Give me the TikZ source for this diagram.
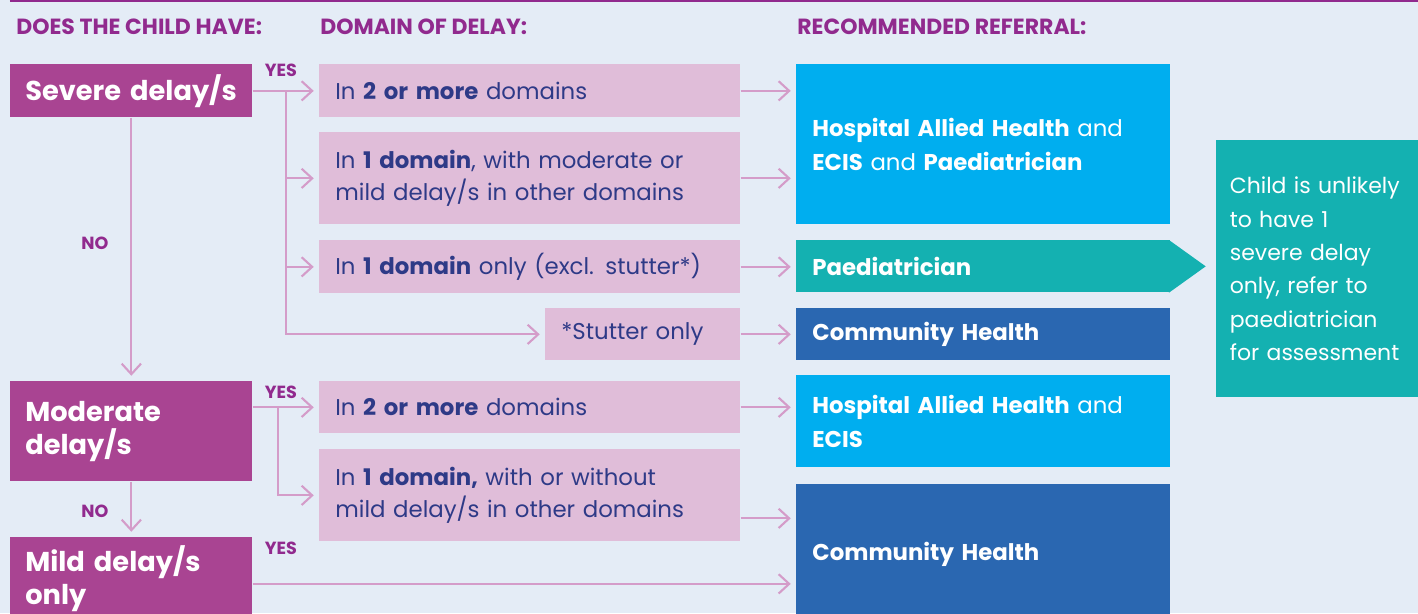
\documentclass[tikz,border=0pt]{standalone}
\usepackage{fontspec}
\setmainfont{Poppins}
\usetikzlibrary{arrows.meta}
\definecolor{bgc}{HTML}{E4ECF6}
\definecolor{qcol}{HTML}{A94492}
\definecolor{hcol}{HTML}{912A8E}
\definecolor{dcol}{HTML}{E0BDD9}
\definecolor{dtext}{HTML}{2E3A87}
\definecolor{lcol}{HTML}{D49CC9}
\definecolor{lblue}{HTML}{00AEEF}
\definecolor{tealc}{HTML}{14B1B1}
\definecolor{dblue}{HTML}{2A67B1}
\hyphenpenalty=10000
\exhyphenpenalty=10000
\tikzset{
  qbox/.style={fill=qcol,text=white,font=\bfseries\fontsize{15.5}{19}\selectfont,anchor=north west,
    inner xsep=0.3cm,inner ysep=0pt,text width=4.24cm,minimum height=#1,align=left},
  dbox/.style 2 args={fill=dcol,text=dtext,font=\fontsize{13}{18}\selectfont,anchor=north west,
    inner xsep=0.32cm,inner ysep=0pt,text width=#1,minimum height=#2,align=left},
  rbox/.style 2 args={fill=#1,text=white,font=\fontsize{13}{19}\selectfont,anchor=north west,
    inner xsep=0.32cm,inner ysep=0pt,text width=6.84cm,minimum height=#2,align=left},
  link/.style={draw=lcol,line width=1.2pt,-{Straight Barb[length=6pt,width=11pt]},shorten >=3pt},
  head/.style={anchor=west,inner sep=0pt,text=hcol,font=\bfseries\fontsize{12.5}{15}\selectfont},
  tag/.style={text=hcol,font=\bfseries\fontsize{10}{12}\selectfont}
}
\begin{document}
\begin{tikzpicture}
\fill[bgc](0,0)rectangle(28.36,-12.26);
\useasboundingbox(0,0)rectangle(28.36,-12.26);
\draw[hcol,line width=1.2pt](0.2,-0.02)--(28.36,-0.02);
\node[head](h1)at(0.32,-0.54){DOES THE CHILD HAVE:};
\node[head](h2)at(6.4,-0.54){DOMAIN OF DELAY:};
\node[head](h3)at(15.94,-0.54){RECOMMENDED REFERRAL:};
\node[qbox=1.06cm](sev)at(0.2,-1.28){Severe delay/s};
\node[qbox=2cm](mod)at(0.2,-7.62){Moderate\\delay/s};
\node[qbox=1.66cm](mild)at(0.2,-10.74){Mild delay/s\\only};
\node[dbox={7.78cm}{1.06cm}](twoS)at(6.38,-1.28){In \textbf{2 or more} domains};
\node[dbox={7.78cm}{1.84cm}](oneS)at(6.38,-2.64){In \textbf{1 domain}, with moderate or\\mild delay/s in other domains};
\node[dbox={7.78cm}{1.06cm}](onlyS)at(6.38,-4.8){In \textbf{1 domain} only (excl. stutter*)};
\node[dbox={3.26cm}{1.04cm}](stut)at(10.9,-6.16){*Stutter only};
\node[dbox={7.78cm}{1.04cm}](twoM)at(6.38,-7.62){In \textbf{2 or more} domains};
\node[dbox={7.78cm}{1.84cm}](oneM)at(6.38,-8.98){In \textbf{1 domain,} with or without\\mild delay/s in other domains};
\node[rbox={lblue}{3.2cm}](hahp)at(15.92,-1.28){\textbf{Hospital Allied Health} and\\\textbf{ECIS} and \textbf{Paediatrician}};
\node[rbox={tealc}{1.04cm}](paed)at(15.92,-4.8){\textbf{Paediatrician}};
\fill[tealc]([xshift=-1pt]paed.north east)--([xshift=0.7cm]paed.east)--([xshift=-1pt]paed.south east)--cycle;
\node[rbox={dblue}{1.04cm}](chS)at(15.92,-6.16){\textbf{Community Health}};
\node[rbox={lblue}{1.84cm}](hae)at(15.92,-7.5){\textbf{Hospital Allied Health} and\\\textbf{ECIS}};
\node[rbox={dblue}{2.8cm}](chM)at(15.92,-9.68){\textbf{Community Health}};
\node[fill=tealc,text=white,font=\fontsize{12.5}{19}\selectfont,anchor=north west,inner xsep=0.27cm,
  text width=3.5cm,minimum height=5.14cm,align=left](note)at(24.32,-2.8)
  {Child is unlikely\\to have 1\\severe delay\\only, refer to\\paediatrician\\for assessment};
\node[tag](yes1)at(5.62,-1.4){YES};
\node[tag](yes2)at(5.62,-7.84){YES};
\node[tag](yes3)at(5.62,-10.96){YES};
\node[tag](no1)at(1.9,-4.86){NO};
\node[tag](no2)at(1.9,-10.22){NO};
\coordinate(bS)at(5.72,-1.82);
\coordinate(bM)at(5.56,-8.16);
\draw[link](sev.east)--(twoS.west);
\draw[link](bS)|-(oneS.west);
\draw[link](bS)|-(onlyS.west);
\draw[link](bS)|-(stut.west);
\draw[link](sev.south)--(mod.north);
\draw[link](mod.east|-twoM.west)--(twoM.west);
\draw[link](bM)|-(oneM.west);
\draw[link](mod.south)--(mild.north);
\draw[link]([yshift=-0.1cm]mild.east)--([yshift=-0.1cm]mild.east-|chM.west);
\draw[link](twoS.east)--(twoS.east-|hahp.west);
\draw[link](oneS.east)--(oneS.east-|hahp.west);
\draw[link](onlyS.east)--(onlyS.east-|paed.west);
\draw[link](stut.east)--(stut.east-|chS.west);
\draw[link](twoM.east)--(twoM.east-|hae.west);
\draw[link]([yshift=-0.46cm]oneM.east)--([yshift=-0.46cm]oneM.east-|chM.west);
\end{tikzpicture}
\end{document}
